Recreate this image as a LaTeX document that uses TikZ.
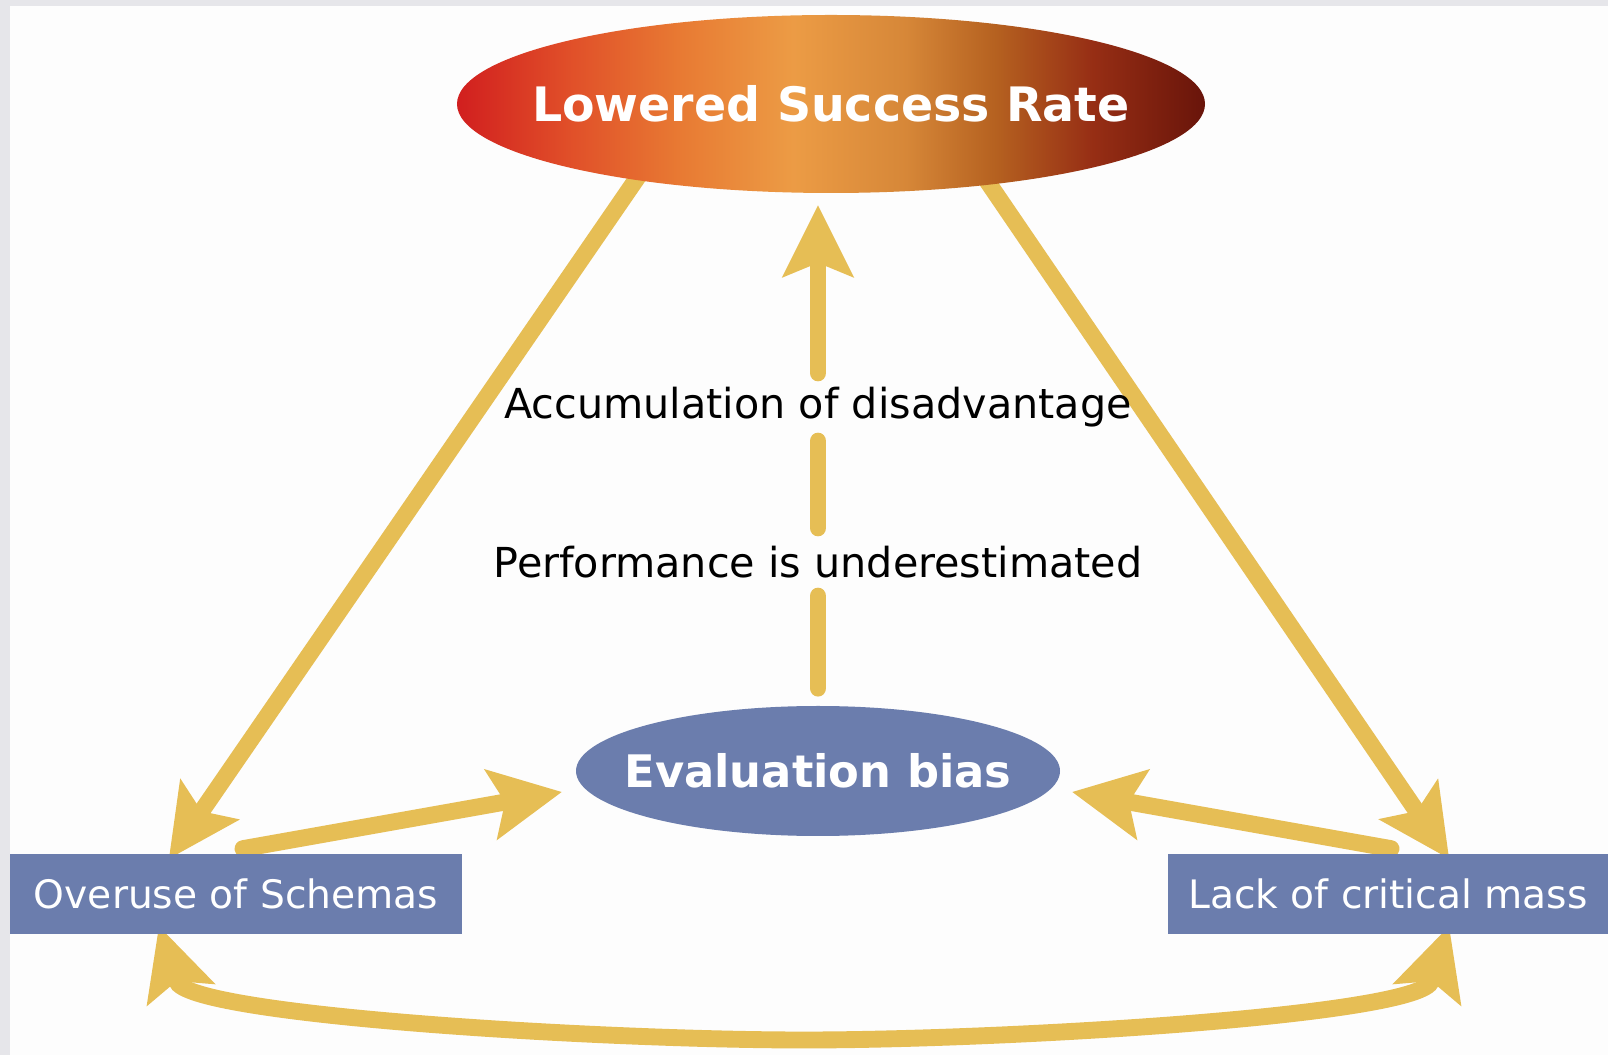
\documentclass[tikz,border=0pt]{standalone}
\usepackage{fontspec}
\setmainfont{DejaVu Sans}
\usetikzlibrary{arrows.meta,shapes.geometric,backgrounds}
\definecolor{arrowgold}{RGB}{230,190,85}
\definecolor{slateblue}{RGB}{107,125,173}
\definecolor{pagegray}{RGB}{230,230,234}
\definecolor{pagewhite}{RGB}{253,253,253}
\pgfdeclarehorizontalshading{sunset}{100bp}{rgb(0bp)=(0.82,0.12,0.12); rgb(25bp)=(0.82,0.12,0.12); rgb(32.5bp)=(0.88,0.31,0.16); rgb(40bp)=(0.91,0.48,0.2); rgb(47.5bp)=(0.925,0.61,0.27); rgb(55bp)=(0.84,0.53,0.22); rgb(61bp)=(0.71,0.38,0.125); rgb(67.5bp)=(0.59,0.18,0.08); rgb(75bp)=(0.41,0.08,0.04); rgb(100bp)=(0.41,0.08,0.04)}
\tikzset{
  goldtip/.tip={Stealth[length=1.45cm,width=1.45cm,inset=0.3cm,line width=0pt]},
  topic/.style={ellipse, inner ysep=0pt, inner xsep=-1.2cm, text=white},
  cause/.style={rectangle, fill=slateblue, text=white, minimum height=1.6cm, inner sep=0pt, font=\fontsize{22.3}{27}\selectfont},
  effect/.style={minimum height=1.35cm, inner sep=0pt, font=\fontsize{23.5}{28}\selectfont},
  link/.style={draw=arrowgold, line width=9.6pt, line cap=round},
  tipped/.style={link, -{goldtip}},
  twoway/.style={link, {goldtip}-{goldtip}}
}
\begin{document}
\begin{tikzpicture}
	\useasboundingbox (0,0) rectangle (32.16,21.1);
	\node[topic, shade, shading=sunset, minimum width=14.96cm, minimum height=3.56cm, font=\bfseries\fontsize{27}{33}\selectfont] (lowered) at (16.62,19.02) {Lowered Success Rate};
	\node[topic, fill=slateblue, minimum width=9.68cm, minimum height=2.6cm, font=\bfseries\fontsize{25.5}{30}\selectfont] (eval) at (16.36,5.68) {Evaluation bias};
	\node[cause, minimum width=9.04cm] (overuse) at (4.72,3.22) {Overuse of Schemas};
	\node[cause, minimum width=8.8cm] (lack) at (27.76,3.22) {Lack of critical mass};
	\node[effect] (accum) at (16.36,12.96) {Accumulation of disadvantage};
	\node[effect] (perf) at (16.36,9.86) {Performance is underestimated};
	\coordinate (loopbottom) at (16.08,0.3);
	\begin{scope}[on background layer]
		\fill[pagegray] (0,0) rectangle (32.16,21.1);
		\fill[pagewhite] (0.2,0) rectangle (32.16,20.98);
		\draw[link, shorten <=0.35cm] (eval.north) -- (perf.south);
		\draw[link] (perf.north) -- (accum.south);
		\draw[tipped, shorten >=0.24cm] (accum.north) -- (accum.north |- lowered.south);
		\draw[tipped] ([xshift=-3.62cm,yshift=0.68cm]lowered.south) -- ([xshift=-1.34cm,yshift=-0.1cm]overuse.north);
		\draw[tipped] ([xshift=2.84cm,yshift=0.66cm]lowered.south) -- ([xshift=1.22cm,yshift=-0.1cm]lack.north);
		\draw[tipped] ([xshift=0.14cm,yshift=0.1cm]overuse.north) -- ([xshift=-0.28cm,yshift=-0.42cm]eval.west);
		\draw[tipped] ([xshift=0.06cm,yshift=0.1cm]lack.north) -- ([xshift=0.24cm,yshift=-0.42cm]eval.east);
		\draw[twoway] ([xshift=-1.54cm,yshift=0.16cm]overuse.south) .. controls +(0.57,-1.78) and +(-4.08,0) .. (loopbottom) .. controls +(4.08,0) and +(-0.57,-1.78) .. ([xshift=1.22cm,yshift=0.16cm]lack.south);
	\end{scope}
\end{tikzpicture}
\end{document}
